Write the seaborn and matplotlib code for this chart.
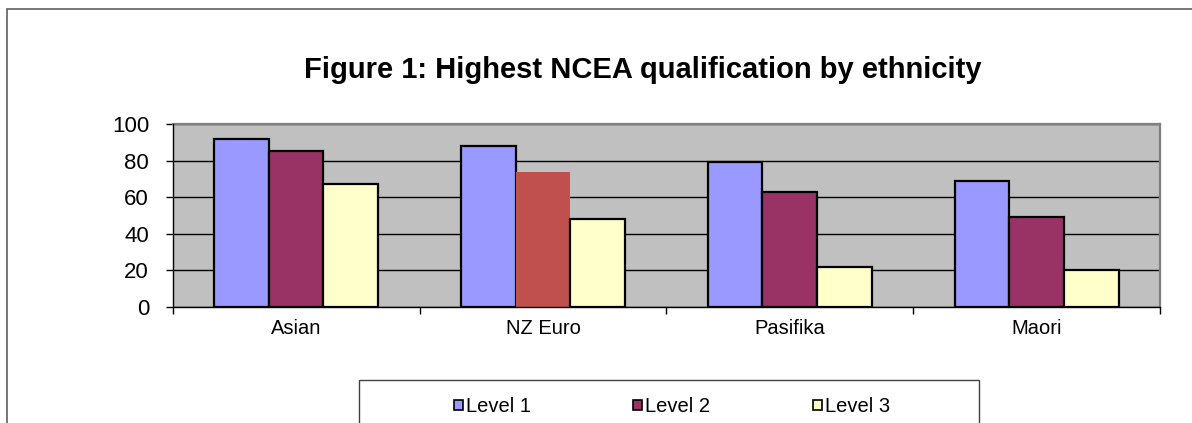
import matplotlib
matplotlib.use("Agg")
import matplotlib.pyplot as plt
from matplotlib.patches import Rectangle
import seaborn as sns
import pandas as pd

categories = ["Asian", "NZ Euro", "Pasifika", "Maori"]
levels = ["Level 1", "Level 2", "Level 3"]
level1 = [92, 88, 79, 69]
level2 = [85, 74, 63, 49]
level3 = [67, 48, 22, 20]
title = "Figure 1: Highest NCEA qualification by ethnicity"

sns.set_theme(style="white")
plt.rcParams["font.family"] = ["Liberation Sans", "DejaVu Sans"]
plt.rcParams["text.color"] = "black"

rows = []
for lvl, vals in zip(levels, [level1, level2, level3]):
    for c, v in zip(categories, vals):
        rows.append({"Ethnicity": c, "Level": lvl, "Value": v})
df = pd.DataFrame(rows)

W, H = 1192, 423
fig = plt.figure(figsize=(W / 100, H / 100), dpi=100)
fig.patch.set_facecolor("white")
ax = fig.add_axes([172.7 / W, 1 - 306.7 / H, (1160 - 172.7) / W, (306.7 - 124) / H])
ax.set_facecolor("#C0C0C0")

palette = {"Level 1": "#9999FF", "Level 2": "#993366", "Level 3": "#FFFFCC"}
sns.barplot(data=df, x="Ethnicity", y="Value", hue="Level", order=categories,
            hue_order=levels, palette=palette, width=0.665, saturation=1,
            edgecolor="black", linewidth=1.6, ax=ax, zorder=3)

# highlighted bar (NZ Euro, Level 2) drawn without outline in the original
hl = ax.containers[1][1]
hl.set_facecolor("#C0504D")
hl.set_edgecolor("#C0504D")
hl.set_linewidth(0)

handles, labels = ax.get_legend_handles_labels()
if ax.get_legend() is not None:
    ax.get_legend().remove()
for h in handles:
    h.set_edgecolor("black")
    h.set_linewidth(1.2)

ax.set_xlim(-0.5, 3.5)
ax.set_ylim(0, 100)
ax.set_yticks([0, 20, 40, 60, 80, 100])
ax.set_xlabel("")
ax.set_ylabel("")
ax.set_axisbelow(True)
ax.yaxis.grid(True, color="black", linewidth=1)
ax.xaxis.grid(False)

ax.set_xticks([0, 1, 2, 3])
ax.set_xticks([-0.5, 0.5, 1.5, 2.5, 3.5], minor=True)
ax.tick_params(axis="x", which="major", length=0, pad=9, labelsize=14.5, labelcolor="black")
ax.tick_params(axis="x", which="minor", length=5, width=1, color="black", direction="out", bottom=True)
ax.tick_params(axis="y", which="major", length=5, width=1, color="black", direction="out",
               pad=12, labelsize=16, labelcolor="black", left=True)

for side in ["top", "right"]:
    ax.spines[side].set_color("#808080")
    ax.spines[side].set_linewidth(1.6)
for side in ["left", "bottom"]:
    ax.spines[side].set_color("black")
    ax.spines[side].set_linewidth(1)
    ax.spines[side].set_zorder(4)

fig.text(643 / W, 1 - 77.5 / H, title, ha="center", va="baseline",
         fontsize=21, fontweight="bold", color="black")

# outer chart border
fig.patches.append(Rectangle((7 / W, -0.2), 1.2, 1 - 9 / H + 0.2, transform=fig.transFigure,
                             fill=False, edgecolor="#606060", linewidth=1.2))
# legend box
fig.patches.append(Rectangle((359 / W, -0.2), (979 - 359) / W, 1 - 380 / H + 0.2,
                             transform=fig.transFigure, fill=False,
                             edgecolor="#404040", linewidth=1.0))

leg = fig.legend(handles, labels, loc="center", bbox_to_anchor=(672 / W, 1 - 406.7 / H),
                 ncol=3, frameon=False, fontsize=14.5, handlelength=0.45, handleheight=0.45,
                 handletextpad=0.15, columnspacing=5.1, borderpad=0)
for t in leg.get_texts():
    t.set_color("black")

fig.savefig("out.png", dpi=100)
